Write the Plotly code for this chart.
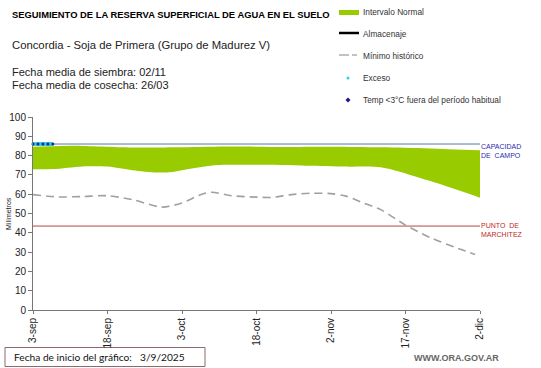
import plotly.graph_objects as go

# ---------------- data ----------------
X_TICK_DATES = ["2025-09-03", "2025-09-18", "2025-10-03", "2025-10-18", "2025-11-02", "2025-11-17", "2025-12-02"]
X_TICK_LABELS = ["3-sep", "18-sep", "3-oct", "18-oct", "2-nov", "17-nov", "2-dic"]

NORMAL_UPPER_DATES = ["2025-09-03", "2025-09-11", "2025-09-23", "2025-10-03", "2025-10-13", "2025-10-23",
                      "2025-11-02", "2025-11-12", "2025-11-22", "2025-12-02"]
NORMAL_UPPER = [84.6, 85.1, 84.2, 84.3, 84.7, 84.5, 84.6, 84.3, 83.7, 82.8]

NORMAL_LOWER_DATES = ["2025-09-03", "2025-09-07", "2025-09-13", "2025-09-18", "2025-09-23", "2025-09-28",
                      "2025-10-01", "2025-10-03", "2025-10-10", "2025-10-18", "2025-10-28", "2025-11-05",
                      "2025-11-12", "2025-11-22", "2025-12-02"]
NORMAL_LOWER = [72.9, 73.0, 74.4, 74.3, 72.4, 71.2, 71.5, 72.4, 75.1, 75.2, 74.8, 74.3, 74.0, 66.8, 58.2]

MIN_HIST_DATES = ["2025-09-03", "2025-09-08", "2025-09-13", "2025-09-18", "2025-09-23", "2025-09-29",
                  "2025-10-03", "2025-10-07", "2025-10-09", "2025-10-13", "2025-10-18", "2025-10-21",
                  "2025-10-25", "2025-10-29", "2025-11-02", "2025-11-05", "2025-11-08", "2025-11-12",
                  "2025-11-17", "2025-11-22", "2025-11-27", "2025-12-01"]
MIN_HIST = [59.8, 58.6, 58.8, 59.2, 57.2, 53.3, 55.5, 60.0, 61.0, 59.2, 58.5, 58.3,
            59.8, 60.5, 60.3, 59.0, 56.0, 52.0, 44.0, 37.5, 32.5, 28.8]

EXCESO_DATES = ["2025-09-03", "2025-09-04", "2025-09-05", "2025-09-06", "2025-09-07"]
EXCESO = [86, 86, 86, 86, 86]

CAPACIDAD_CAMPO = 86
PUNTO_MARCHITEZ = 43.5
RANGE_DATES = ["2025-09-03", "2025-12-02"]

# ---------------- layout helpers (pixel -> paper) ----------------
W, H = 541, 368
L, R, T, B = 33, 480, 117, 310


def px(x):
    return (x - L) / (R - L)


def py(y):
    return (B - y) / (B - T)


ARIAL = "Arial, Liberation Sans, sans-serif"

fig = go.Figure()

# normal interval band
fig.add_trace(go.Scatter(x=NORMAL_UPPER_DATES, y=NORMAL_UPPER, mode="lines",
                         line=dict(width=0, shape="spline", smoothing=0.8, color="#99cc00"),
                         hoverinfo="skip", showlegend=False))
fig.add_trace(go.Scatter(x=NORMAL_LOWER_DATES, y=NORMAL_LOWER, mode="lines",
                         line=dict(width=0, shape="spline", smoothing=0.8, color="#99cc00"),
                         fill="tonexty", fillcolor="#99cc00",
                         hoverinfo="skip", showlegend=False))

# capacidad de campo / punto de marchitez
fig.add_trace(go.Scatter(x=RANGE_DATES, y=[CAPACIDAD_CAMPO] * 2, mode="lines",
                         line=dict(width=1, color="#5a78a8"), showlegend=False, cliponaxis=False))
fig.add_trace(go.Scatter(x=RANGE_DATES, y=[PUNTO_MARCHITEZ] * 2, mode="lines",
                         line=dict(width=1, color="#b5453f"), showlegend=False, cliponaxis=False))

# minimo historico
fig.add_trace(go.Scatter(x=MIN_HIST_DATES, y=MIN_HIST, mode="lines",
                         line=dict(width=1.6, color="#a0a0a0", dash="8px,5px", shape="spline", smoothing=0.8),
                         showlegend=False))

# exceso
fig.add_trace(go.Scatter(x=EXCESO_DATES, y=EXCESO, mode="lines+markers",
                         line=dict(width=4, color="#33ccee"),
                         marker=dict(size=3, color="#1a2a80"),
                         showlegend=False, cliponaxis=False))

fig.update_layout(
    width=W, height=H,
    margin=dict(l=L, r=W - R, t=T, b=H - B, pad=0),
    paper_bgcolor="white", plot_bgcolor="white",
    font=dict(family=ARIAL, color="#222"),
    showlegend=False,
    xaxis=dict(type="date", range=RANGE_DATES, tickvals=X_TICK_DATES, ticktext=X_TICK_LABELS,
               tickangle=-90, tickfont=dict(size=10, color="#222", family=ARIAL),
               showgrid=False, zeroline=False, showline=True, linecolor="#777", linewidth=1,
               ticks="outside", ticklen=3, tickcolor="#777", automargin=False),
    yaxis=dict(range=[0, 100], dtick=10, tickfont=dict(size=10, color="#222", family=ARIAL),
               showgrid=False, zeroline=False, showline=True, linecolor="#777", linewidth=1,
               ticks="outside", ticklen=4, tickcolor="#777", automargin=False),
)

ann = []


def text(x, y, s, size=8, color="#222", family=ARIAL, xanchor="left", bold=False, angle=0, yanchor="middle"):
    if bold:
        s = "<b>" + s + "</b>"
    ann.append(dict(x=px(x), y=py(y), xref="paper", yref="paper", text=s, showarrow=False,
                    xanchor=xanchor, yanchor=yanchor, textangle=angle,
                    font=dict(size=size, color=color, family=family)))


# titles
text(10, 15, "SEGUIMIENTO DE LA RESERVA SUPERFICIAL DE AGUA EN EL SUELO", size=9.4, color="#000", bold=True)
text(10, 45, "Concordia - Soja de Primera (Grupo de Madurez V)", size=11.3)
text(10, 72, "Fecha media de siembra: 02/11", size=11)
text(10, 85, "Fecha media de cosecha: 26/03", size=11)

# reference line labels
text(479, 146, "CAPACIDAD", size=7, color="#2b2bb0")
text(479, 155, "DE  CAMPO", size=7, color="#2b2bb0")
text(479, 225, "PUNTO  DE", size=7, color="#c02828")
text(479, 234, "MARCHITEZ", size=7, color="#c02828")

# y axis title
text(8, 214, "Milímetros", size=7, color="#222", xanchor="center", angle=-90)

# legend
shapes = []
shapes.append(dict(type="rect", xref="paper", yref="paper", x0=px(339), x1=px(359), y0=py(15), y1=py(10),
                   fillcolor="#99cc00", line=dict(width=0)))
shapes.append(dict(type="line", xref="paper", yref="paper", x0=px(339), x1=px(359), y0=py(33), y1=py(33),
                   line=dict(width=2.5, color="#000")))
shapes.append(dict(type="line", xref="paper", yref="paper", x0=px(339), x1=px(349), y0=py(55), y1=py(55),
                   line=dict(width=1.2, color="#999")))
shapes.append(dict(type="line", xref="paper", yref="paper", x0=px(352), x1=px(357), y0=py(55), y1=py(55),
                   line=dict(width=1.2, color="#999")))
# exceso dot
shapes.append(dict(type="circle", xref="paper", yref="paper", x0=px(346.5), x1=px(349.5), y0=py(79.5), y1=py(76.5),
                   fillcolor="#33ccee", line=dict(width=0)))
# temp diamond
dx, dy = 2.5, 2.5
cx, cy = 348, 100
path = "M {} {} L {} {} L {} {} L {} {} Z".format(px(cx), py(cy - dy), px(cx + dx), py(cy), px(cx), py(cy + dy),
                                                  px(cx - dx), py(cy))
shapes.append(dict(type="path", xref="paper", yref="paper", path=path, fillcolor="#1a1a8c", line=dict(width=0)))
# bottom box
shapes.append(dict(type="rect", xref="paper", yref="paper", x0=px(5), x1=px(205), y0=py(366.5), y1=py(347.5),
                   fillcolor="white", line=dict(width=1, color="#8a6a6a"), layer="below"))
fig.update_layout(shapes=shapes)

text(361, 12, "Intervalo Normal", size=8.3, color="#333")
text(361, 34, "Almacenaje", size=8.3, color="#333")
text(361, 56, "Mínimo histórico", size=8.3, color="#333")
text(361, 78, "Exceso", size=8.3, color="#333")
text(361, 100, "Temp <3°C fuera del período habitual", size=8.3, color="#333")

text(12, 357, "Fecha de inicio del gráfico:", size=10.2, color="#111", family="Lato, Carlito, sans-serif")
text(138, 357, "3/9/2025", size=10.2, color="#111", family="Lato, Carlito, sans-serif")
text(501, 358, "WWW.ORA.GOV.AR", size=9, color="#666", xanchor="right", bold=True)

fig.update_layout(annotations=ann)

fig.write_html("out.html", config={"displayModeBar": False},
               post_script="document.body.style.margin='0';document.body.style.padding='0';")
